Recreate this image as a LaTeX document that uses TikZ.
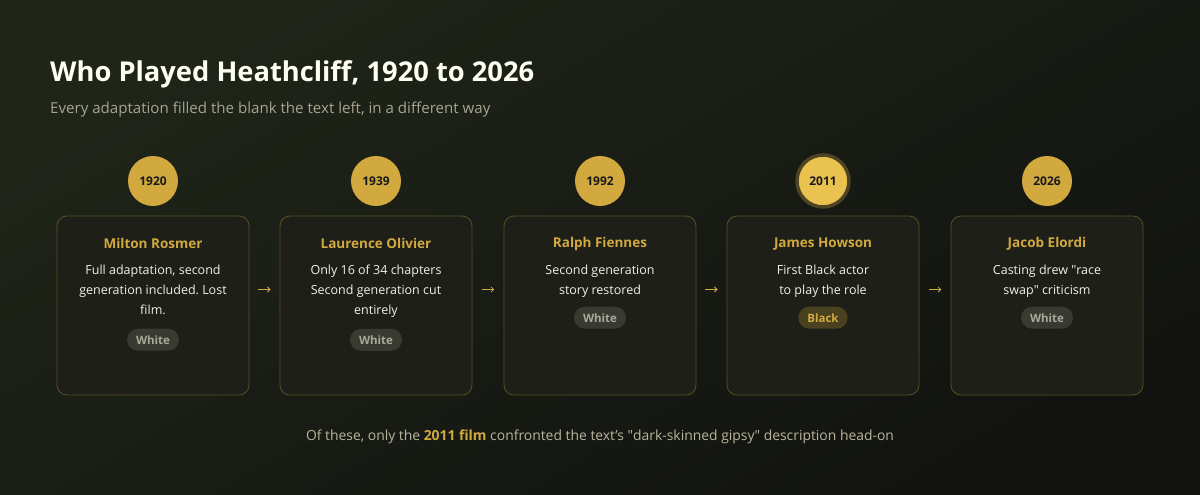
\documentclass[tikz,border=0pt]{standalone}
\usepackage{fontspec}
\setmainfont{Open Sans}
\usetikzlibrary{positioning,calc,arrows.meta}
\frenchspacing

\definecolor{bgtop}{HTML}{1F2519}
\definecolor{bgbot}{HTML}{121310}
\definecolor{gold}{HTML}{D2A93E}
\definecolor{goldhi}{HTML}{E9C24F}
\definecolor{goldring}{HTML}{4F4421}
\definecolor{cardfill}{HTML}{1D1F18}
\definecolor{cardline}{HTML}{595027}
\definecolor{pillgrey}{HTML}{393A31}
\definecolor{pilltext}{HTML}{A9A899}
\definecolor{pillgold}{HTML}{4A4120}
\definecolor{bodytext}{HTML}{F2F0E8}
\definecolor{subtext}{HTML}{A8A58F}
\definecolor{foottext}{HTML}{B9B59E}

\begin{document}
\begin{tikzpicture}[x=1pt, y=-1pt,
    year/.style = {circle, fill=gold, minimum size=50pt, inner sep=0pt,
        font=\fontsize{12}{14}\selectfont\bfseries, text=black!90},
    card/.style = {draw=cardline, fill=cardfill, rounded corners=10pt,
        minimum width=192pt, minimum height=179pt, line width=0.8pt},
    actor/.style = {font=\fontsize{13.5}{16}\selectfont\bfseries, text=gold},
    blurb/.style = {font=\fontsize{12.5}{20}\selectfont, text=bodytext,
        align=center, anchor=north, inner sep=0pt},
    tag/.style = {rounded corners=11pt, minimum height=22pt, inner xsep=9pt,
        font=\fontsize{11.5}{13}\selectfont\bfseries},
    white/.style = {tag, fill=pillgrey, text=pilltext},
    black/.style = {tag, fill=pillgold, text=gold},
    link/.style = {gold, line width=0.8pt, -{Straight Barb[length=2.5pt,width=5pt]}}]

    % background
    \shade[top color=bgtop, bottom color=bgbot, shading angle=30]
        (0,0) rectangle (1200,495);
    \useasboundingbox (0,0) rectangle (1200,495);

    % heading
    \node[anchor=west, inner sep=0pt, text=white!95!yellow,
        font=\fontsize{27.3}{32}\selectfont\bfseries] (title) at (50,74)
        {Who Played Heathcliff, 1920 to 2026};
    \node[anchor=west, inner sep=0pt, text=subtext,
        font=\fontsize{15.1}{18}\selectfont] (subtitle) at (50,110)
        {Every adaptation filled the blank the text left, in a different way};

    % years
    \node[year] (y1) at (153,181) {1920};
    \node[year] (y2) at (376,181) {1939};
    \node[year] (y3) at (600,181) {1992};
    \node[year, fill=goldhi, draw=goldring, line width=3.5pt, minimum size=52pt] (y4) at (823,181) {2011};
    \node[year] (y5) at (1047,181) {2026};

    % cards
    \node[card] (c1) at (153,305.5) {};
    \node[card] (c2) at (376,305.5) {};
    \node[card] (c3) at (600,305.5) {};
    \node[card] (c4) at (823,305.5) {};
    \node[card] (c5) at (1047,305.5) {};

    % names
    \node[actor] (n1) at ([yshift=-28pt]c1.north) {Milton Rosmer};
    \node[actor] (n2) at ([yshift=-28pt]c2.north) {Laurence Olivier};
    \node[actor] (n3) at ([yshift=-28pt]c3.north) {Ralph Fiennes};
    \node[actor] (n4) at ([yshift=-28pt]c4.north) {James Howson};
    \node[actor] (n5) at ([yshift=-28pt]c5.north) {Jacob Elordi};

    % notes
    \node[blurb] (d1) at ([yshift=-49pt]c1.north) {Full adaptation, second\\generation included. Lost\\film.\strut};
    \node[blurb] (d2) at ([yshift=-49pt]c2.north) {Only 16 of 34 chapters\\Second generation cut\\entirely\strut};
    \node[blurb] (d3) at ([yshift=-49pt]c3.north) {Second generation\\story restored\strut};
    \node[blurb] (d4) at ([yshift=-49pt]c4.north) {First Black actor\\to play the role\strut};
    \node[blurb] (d5) at ([yshift=-49pt]c5.north) {Casting drew \textquotedbl race\\swap\textquotedbl{} criticism\strut};

    % tags
    \node[white, below=8pt of d1] (t1) {White};
    \node[white, below=8pt of d2] (t2) {White};
    \node[white, below=6pt of d3] (t3) {White};
    \node[black, below=6pt of d4] (t4) {Black};
    \node[white, below=6pt of d5] (t5) {White};

    % arrows between cards
    \foreach \a/\b in {c1/c2, c2/c3, c3/c4, c4/c5}
        \draw[link] ($(\a.east)!0.3!(\b.west)+(0,-16)$) -- ($(\a.east)!0.7!(\b.west)+(0,-16)$);

    % footer
    \node[text=foottext, font=\fontsize{13.9}{16}\selectfont] (foot) at (600,437)
        {Of these, only the \textbf{\color{gold}2011 film} confronted the text's \textquotedbl dark-skinned gipsy\textquotedbl{} description head-on};
\end{tikzpicture}
\end{document}
